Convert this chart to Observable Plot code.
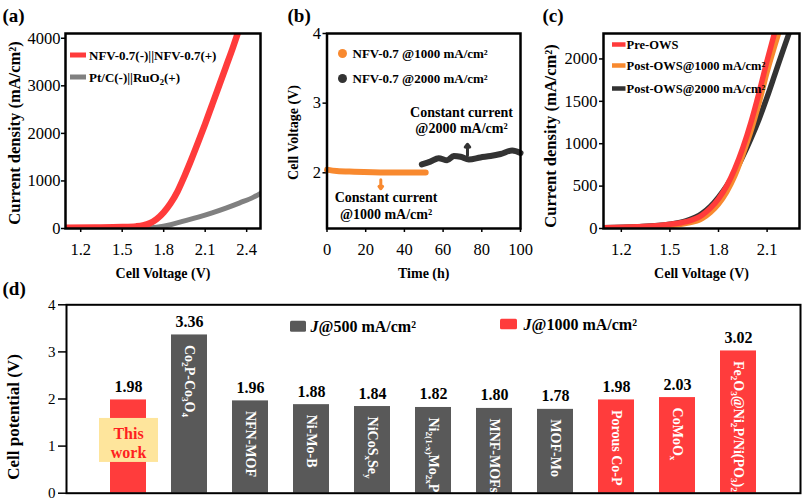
<!DOCTYPE html>
<html><head><meta charset="utf-8">
<script src="https://cdn.jsdelivr.net/npm/d3@7"></script>
<script src="https://cdn.jsdelivr.net/npm/@observablehq/plot@0.6"></script>
<style>
html,body{margin:0;padding:0;background:#fff;}
#root{position:relative;width:803px;height:500px;overflow:hidden;background:#fff;}
#root svg, #root svg text{font-family:'Liberation Serif','Times New Roman',serif;}
</style></head><body><div id="root"></div>
<script>
// ---------------- DATA ----------------
// (a) polarization curves
const aNfvV = [1.09, 1.3, 1.5, 1.6, 1.65, 1.7, 1.75, 1.8, 1.85, 1.9, 1.95, 2.0, 2.05, 2.1, 2.15, 2.2, 2.25, 2.3, 2.335];
const aNfvJ = [15, 20, 30, 45, 65, 110, 200, 340, 530, 780, 1100, 1450, 1820, 2200, 2600, 3000, 3400, 3800, 4100];
const aPtV = [1.65, 1.75, 1.85, 1.95, 2.05, 2.15, 2.25, 2.35, 2.45, 2.5];
const aPtJ = [0, 25, 80, 160, 240, 330, 430, 540, 660, 740];
const aLegend = ["NFV-0.7(-)||NFV-0.7(+)", "Pt/C(-)||RuO_{2}(+)"];
const aTicksX = [1.2, 1.5, 1.8, 2.1, 2.4];
const aTicksY = [0, 1000, 2000, 3000, 4000];

// (b) stability
const b1000T = [0, 5, 14, 31, 51];
const b1000V = [2.045, 2.025, 2.015, 2.005, 2.005];
const b2000T = [49, 53.4, 57.7, 62.1, 65.5, 69, 73.3, 79.3, 84.5, 89.7, 95.7, 100];
const b2000V = [2.12, 2.16, 2.21, 2.18, 2.24, 2.23, 2.19, 2.22, 2.24, 2.27, 2.32, 2.285];
const bLegend = ["NFV-0.7 @1000 mA/cm²", "NFV-0.7 @2000 mA/cm²"];
const bNotes = ["Constant current\n@2000 mA/cm²", "Constant current\n@1000 mA/cm²"];
const bTicksX = [0, 20, 40, 60, 80, 100];
const bTicksY = [2, 3, 4];

// (c) polarization before / after
const cPreV = [1.09, 1.3, 1.5, 1.6, 1.7, 1.75, 1.8, 1.85, 1.9, 1.95, 2.0, 2.05, 2.1, 2.145];
const cPreJ = [10, 20, 50, 80, 160, 240, 350, 500, 700, 950, 1250, 1600, 1980, 2300];
const c1000V = [1.09, 1.3, 1.5, 1.6, 1.7, 1.75, 1.8, 1.85, 1.9, 1.95, 2.0, 2.05, 2.1, 2.17];
const c1000J = [5, 15, 35, 60, 120, 190, 290, 430, 620, 870, 1150, 1480, 1850, 2300];
const c2000V = [1.09, 1.3, 1.5, 1.6, 1.7, 1.75, 1.8, 1.85, 1.9, 1.95, 2.0, 2.05, 2.1, 2.15, 2.2, 2.235];
const c2000J = [10, 20, 50, 90, 180, 260, 370, 500, 660, 850, 1060, 1290, 1550, 1830, 2110, 2300];
const cLegend = ["Pre-OWS", "Post-OWS@1000 mA/cm²", "Post-OWS@2000 mA/cm²"];
const cTicksX = [1.2, 1.5, 1.8, 2.1];
const cTicksY = [0, 500, 1000, 1500, 2000];

// (d) comparison
const dCategories = ["This work", "Co_{2}P-Co_{3}O_{4}", "NFN-MOF", "Ni-Mo-B", "NiCoS_{x}Se_{y}", "Ni_{2(1-x)}Mo_{2x}P", "MNF-MOFs", "MOF-Mo", "Porous Co-P", "CoMoO_{x}", "Fe_{2}O_{3}@Ni_{2}P/Ni(PO_{3})_{2}"];
const dValues = [1.98, 3.36, 1.96, 1.88, 1.84, 1.82, 1.80, 1.78, 1.98, 2.03, 3.02];
const dDensity = ["1000", "500", "500", "500", "500", "500", "500", "500", "1000", "1000", "1000"];
const dLegend = ["*J*@500 mA/cm²", "*J*@1000 mA/cm²"];
const dTicksY = [0, 1, 2, 3, 4];

// ---------------- STYLE ----------------
const SERIF = "Liberation Serif";
const RED = "#ff3b3b", GRAYL = "#808080", ORANGE = "#f8892f", DARK = "#333333";
const BAR_GRAY = "#595959", BAR_RED = "#ff3c3c", BOX = "#fee59c";
const root = document.getElementById("root");

function richify(svg) {
  const leaves = [...svg.querySelectorAll("text, tspan")].filter(e => e.children.length === 0 && /[_^]\{|\*/.test(e.textContent));
  for (const el of leaves) {
    const fs = parseFloat(getComputedStyle(el).fontSize) || 15;
    const s = el.textContent; el.textContent = "";
    const re = /_\{([^}]*)\}|\^\{([^}]*)\}|\*([^*]*)\*|([^_^*]+|[_^*])/g;
    let m;
    while ((m = re.exec(s))) {
      const t = document.createElementNS("http://www.w3.org/2000/svg", "tspan");
      if (m[1] !== undefined) { t.textContent = m[1]; t.setAttribute("baseline-shift", (-0.2 * fs).toFixed(1)); t.setAttribute("font-size", (0.66 * fs).toFixed(1)); }
      else if (m[2] !== undefined) { t.textContent = m[2]; t.setAttribute("baseline-shift", (0.35 * fs).toFixed(1)); t.setAttribute("font-size", (0.66 * fs).toFixed(1)); }
      else if (m[3] !== undefined) { t.textContent = m[3]; t.setAttribute("font-style", "italic"); }
      else t.textContent = m[4];
      el.appendChild(t);
    }
  }
}
function place(svg, left, top) {
  svg.style.position = "absolute"; svg.style.left = left + "px"; svg.style.top = top + "px";
  svg.style.overflow = "visible"; svg.style.background = "transparent";
  svg.style.fontFamily = "'Liberation Serif', serif";
  root.appendChild(svg); richify(svg);
}
const base = (w, h, ml, mr, mt, mb) => ({width: w, height: h, marginLeft: ml, marginRight: mr, marginTop: mt, marginBottom: mb,
  style: "font-family: 'Liberation Serif', serif; font-size: 15px; background: transparent; overflow: visible;"});
const label = (t, o) => Plot.text([t], {text: d => d, fontFamily: SERIF, fontWeight: "bold", textAnchor: "start", lineAnchor: "middle", frameAnchor: "top-left", ...o});
const ytitle = (t, o) => Plot.text([t], {text: d => d, frameAnchor: "left", rotate: -90, textAnchor: "middle", lineAnchor: "middle", fontWeight: "bold", fontFamily: SERIF, ...o});
const xtitle = (t) => Plot.text([t], {text: d => d, frameAnchor: "bottom", dy: 45, textAnchor: "middle", lineAnchor: "middle", fontWeight: "bold", fontSize: 14, fontFamily: SERIF});
const swatches = (items) => (index, scales, values, dim) => {
  const g = d3.create("svg:g");
  for (const s of items) g.append("rect").attr("x", dim.marginLeft + s.dx).attr("y", dim.marginTop + s.dy - s.h / 2)
    .attr("width", s.w).attr("height", s.h).attr("fill", s.fill).attr("rx", s.rx || 0);
  return g.node();
};
const fmt1 = d3.format(".1f"), fmtI = d3.format("d");
const zipVJ = (V, J) => V.map((v, i) => ({v, j: J[i]}));
const ax = {fontFamily: SERIF, fontSize: 16.5, strokeWidth: 1.5, label: null};

// ---------------- (a) ----------------
const svgA = Plot.plot({
  ...base(266, 282, 65, 6, 33, 54),
  x: {domain: [1.09, 2.5]}, y: {domain: [0, 4100]},
  marks: [
    Plot.axisX({...ax, ticks: aTicksX, tickFormat: fmt1, tickSize: 4, tickPadding: 11}),
    Plot.axisY({...ax, ticks: aTicksY, tickFormat: fmtI, tickSize: 4, tickPadding: 1}),
    Plot.line(zipVJ(aPtV, aPtJ), {x: "v", y: "j", stroke: GRAYL, strokeWidth: 5, curve: "monotone-x", clip: "frame"}),
    Plot.line(zipVJ(aNfvV, aNfvJ), {x: "v", y: "j", stroke: RED, strokeWidth: 6.5, curve: "monotone-x", clip: "frame"}),
    Plot.frame({stroke: "black", strokeWidth: 2.5}),
    swatches([{dx: 5, dy: 22, w: 16, h: 5, fill: RED}, {dx: 5, dy: 44, w: 16, h: 5, fill: GRAYL}]),
    label(aLegend[0], {dx: 23.5, dy: 22, fontSize: 13}),
    label(aLegend[1], {dx: 23.5, dy: 44, fontSize: 13}),
    label("(a)", {dx: -63, dy: -18, fontSize: 19}),
    xtitle("Cell Voltage (V)"),
    ytitle("Current density (mA/cm²)", {dx: -51, dy: 2, fontSize: 16.5})
  ]
});
place(svgA, 0, 0);

// ---------------- (b) ----------------
const bNoteData = [{t: 69.5, v: 2.76, text: bNotes[0]}, {t: 30.5, v: 1.535, text: bNotes[1]}];
const bArrows = [{t: 72.6, v1: 2.25, v2: 2.41, c: DARK}, {t: 27.8, v1: 1.9, v2: 1.77, c: ORANGE}];
const svgB = Plot.plot({
  ...base(270, 282, 56.5, 20, 33, 54),
  x: {domain: [0, 100]}, y: {domain: [1.2, 4]},
  marks: [
    Plot.axisX({...ax, ticks: bTicksX, tickFormat: fmtI, tickSize: 4, tickPadding: 11}),
    Plot.axisY({...ax, ticks: bTicksY, tickFormat: fmtI, tickSize: 4, tickPadding: 2}),
    Plot.line(b2000T.map((t, i) => ({t, v: b2000V[i]})), {x: "t", y: "v", stroke: DARK, strokeWidth: 6, curve: "monotone-x"}),
    Plot.line(b1000T.map((t, i) => ({t, v: b1000V[i]})), {x: "t", y: "v", stroke: ORANGE, strokeWidth: 6, curve: "monotone-x"}),
    Plot.arrow(bArrows, {x1: "t", x2: "t", y1: "v1", y2: "v2", stroke: "c", strokeWidth: 3, headLength: 6, headAngle: 75}),
    Plot.text(bNoteData, {x: "t", y: "v", text: "text", fontWeight: "bold", fontSize: 14, lineHeight: 1.18, fontFamily: SERIF}),
    Plot.frame({stroke: "black", strokeWidth: 2.5}),
    Plot.dot([0], {frameAnchor: "top-left", dx: 15.5, dy: 20, r: 4.5, fill: ORANGE}),
    Plot.dot([0], {frameAnchor: "top-left", dx: 15.5, dy: 45, r: 4.5, fill: DARK}),
    label(bLegend[0], {dx: 25.5, dy: 20, fontSize: 13}),
    label(bLegend[1], {dx: 25.5, dy: 45, fontSize: 13}),
    label("(b)", {dx: -39.5, dy: -18, fontSize: 19}),
    xtitle("Time (h)"),
    ytitle("Cell Voltage (V)", {dx: -33.5, dy: 1.5, fontSize: 14})
  ]
});
place(svgB, 270, 0);

// ---------------- (c) ----------------
const svgC = Plot.plot({
  ...base(271, 282, 71, 4, 33, 54),
  x: {domain: [1.09, 2.3]}, y: {domain: [0, 2300]},
  marks: [
    Plot.axisX({...ax, ticks: cTicksX, tickFormat: fmt1, tickSize: 4, tickPadding: 11}),
    Plot.axisY({...ax, ticks: cTicksY, tickFormat: fmtI, tickSize: 4, tickPadding: 2}),
    Plot.line(zipVJ(c2000V, c2000J), {x: "v", y: "j", stroke: DARK, strokeWidth: 5.5, curve: "monotone-x", clip: "frame"}),
    Plot.line(zipVJ(c1000V, c1000J), {x: "v", y: "j", stroke: ORANGE, strokeWidth: 5.5, curve: "monotone-x", clip: "frame"}),
    Plot.line(zipVJ(cPreV, cPreJ), {x: "v", y: "j", stroke: RED, strokeWidth: 5.5, curve: "monotone-x", clip: "frame"}),
    Plot.frame({stroke: "black", strokeWidth: 2.5}),
    swatches([{dx: 9, dy: 11.5, w: 13.5, h: 4.5, fill: RED}, {dx: 9, dy: 32.5, w: 13.5, h: 4.5, fill: ORANGE}, {dx: 9, dy: 55.5, w: 13.5, h: 4.5, fill: DARK}]),
    label(cLegend[0], {dx: 23, dy: 11.5, fontSize: 12.5}),
    label(cLegend[1], {dx: 23, dy: 32.5, fontSize: 12.5}),
    label(cLegend[2], {dx: 23, dy: 55.5, fontSize: 12.5}),
    label("(c)", {dx: -61, dy: -18, fontSize: 19}),
    xtitle("Cell Voltage (V)"),
    ytitle("Current density (mA/cm²)", {dx: -53, dy: 5, fontSize: 16.5})
  ]
});
place(svgC, 532, 0);

// ---------------- (d) ----------------
const dData = dCategories.map((c, i) => ({category: c, value: dValues[i], density: dDensity[i]}));
const svgD = Plot.plot({
  ...base(803, 218, 66, 3, 22.3, 7.3),
  x: {type: "band", domain: dCategories, paddingInner: 0.41, paddingOuter: 0.7, axis: null},
  y: {domain: [0, 4]},
  color: {domain: ["500", "1000"], range: [BAR_GRAY, BAR_RED]},
  marks: [
    Plot.axisY({...ax, fontSize: 15, ticks: dTicksY, tickFormat: fmtI, tickSize: 8, tickPadding: 3}),
    Plot.barY(dData, {x: "category", y: "value", fill: "density"}),
    Plot.barY(dData.slice(0, 1), {x: "category", y1: 0.653, y2: 1.587, insetLeft: -11, insetRight: -12, fill: BOX}),
    Plot.text(dData.slice(0, 1), {x: "category", y: 1.087, text: d => d.category.replace(" ", "\n"), fill: "#ff1f1f", fontWeight: "bold", fontSize: 16, lineHeight: 1.19, fontFamily: SERIF}),
    Plot.text(dData, {x: "category", y: "value", text: d => d.value.toFixed(2), dy: -8, lineAnchor: "bottom", fontWeight: "bold", fontSize: 16, fontFamily: SERIF}),
    Plot.text(dData.slice(1), {x: "category", y: "value", text: "category", rotate: 90, textAnchor: "start", lineAnchor: "middle", dy: 10, fill: "white", fontWeight: "bold", fontSize: 14, fontFamily: SERIF}),
    Plot.frame({stroke: "black", strokeWidth: 2}),
    swatches([{dx: 224, dy: 22, w: 16, h: 11, fill: BAR_GRAY, rx: 1.5}, {dx: 434, dy: 19.7, w: 17, h: 10.5, fill: BAR_RED, rx: 1.5}]),
    label(dLegend[0], {dx: 244, dy: 22, fontSize: 16}),
    label(dLegend[1], {dx: 457, dy: 19.7, fontSize: 16}),
    label("(d)", {dx: -64, dy: -16, fontSize: 19}),
    ytitle("Cell potential (V)", {dx: -53, dy: 18, fontSize: 17})
  ]
});
place(svgD, 0, 282);
</script></body></html>
